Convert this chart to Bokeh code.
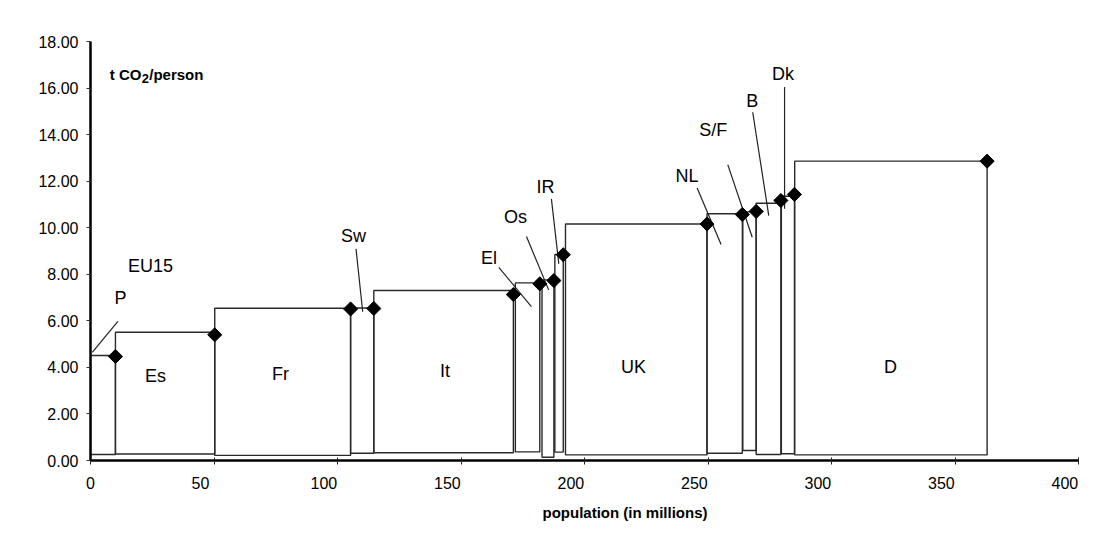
import numpy as np
from bokeh.plotting import figure
from bokeh.models import Range1d, FixedTicker, NumeralTickFormatter, Label, ColumnDataSource, Title
from bokeh.core.properties import value
from bokeh.embed import file_html
from bokeh.resources import INLINE

# ---- data ----
countries = ["P", "Es", "Fr", "Sw", "It", "El", "Os", "IR", "UK", "NL", "S/F", "B", "Dk", "D"]
pop_start = [0.0, 10.1, 50.3, 105.3, 114.7, 172.0, 182.8, 188.0, 192.3, 249.6, 264.1, 269.5, 279.7, 285.1]
pop_end = [10.1, 50.3, 105.3, 114.7, 171.2, 181.9, 187.6, 191.4, 249.6, 263.9, 269.5, 279.5, 285.0, 363.0]
co2_per_capita = [4.51, 5.51, 6.54, 6.55, 7.30, 7.63, 7.76, 8.85, 10.16, 10.60, 10.68, 11.05, 11.35, 12.86]
box_base = [0.26, 0.28, 0.22, 0.31, 0.33, 0.37, 0.14, 0.36, 0.24, 0.31, 0.43, 0.26, 0.29, 0.24]
marker_y = [4.47, 5.40, 6.51, 6.53, 7.13, 7.59, 7.73, 8.84, 10.16, 10.57, 10.70, 11.17, 11.43, 12.86]

# labels inside boxes
inner_labels = ["Es", "Fr", "It", "UK", "D"]
inner_x = [26.3, 76.9, 143.5, 219.8, 323.9]
inner_y = [3.65, 3.72, 3.84, 4.0, 4.0]

# labels with leader lines
outer_labels = ["EU15", "P", "Sw", "El", "Os", "IR", "NL", "S/F", "B", "Dk"]
outer_x = [24.3, 12.1, 106.5, 161.3, 172.1, 184.2, 241.5, 252.1, 267.9, 280.4]
outer_y = [8.35, 6.96, 9.66, 8.71, 10.45, 11.77, 12.24, 14.2, 15.46, 16.61]
lead_x0 = [0.7, 107.5, 165.3, 176.5, 186.6, 245.6, 258.0, 268.1, 281.0]
lead_y0 = [4.65, 9.09, 8.30, 9.62, 11.24, 11.71, 12.71, 14.96, 16.04]
lead_x1 = [11.1, 110.2, 178.5, 185.5, 189.6, 255.3, 267.9, 274.6, 281.0]
lead_y1 = [5.98, 6.39, 6.61, 7.33, 8.45, 9.28, 9.59, 10.52, 10.81]

x_ticks = [0, 50, 100, 150, 200, 250, 300, 350, 400]
x_tick_labels = ["0", "50", "100", "150", "200", "250", "300", "350", "400"]
y_ticks = [0, 2, 4, 6, 8, 10, 12, 14, 16, 18]

FONT = "Liberation Sans"

p = figure(width=1110, height=532, output_backend="svg", toolbar_location=None,
           x_range=Range1d(0, 400), y_range=Range1d(0, 18),
           min_border_left=90, min_border_right=32, min_border_top=41, min_border_bottom=72)
p.outline_line_color = None
p.xgrid.visible = False
p.ygrid.visible = False
p.background_fill_color = "white"
p.border_fill_color = "white"

# x axis: in the reference the printed labels sit ~13px left of their tick marks
label_shift = 5.5
label_pos = [t if t == 0 else t - label_shift for t in x_ticks]
p.xaxis.ticker = FixedTicker(ticks=label_pos, minor_ticks=x_ticks)
p.xaxis.major_label_overrides = {pos: lab for pos, lab in zip(label_pos, x_tick_labels)}
p.xaxis.major_tick_line_color = None
p.xaxis.minor_tick_line_color = "#222222"
p.xaxis.minor_tick_in = 3
p.xaxis.minor_tick_out = 4
p.xaxis.major_label_standoff = 10

p.yaxis.ticker = FixedTicker(ticks=y_ticks)
p.yaxis.formatter = NumeralTickFormatter(format="0.00")
p.yaxis.major_tick_line_color = "#333333"
p.yaxis.minor_tick_line_color = None
p.yaxis.major_tick_in = 0
p.yaxis.major_tick_out = 4
p.yaxis.major_label_standoff = 8

for ax in (p.xaxis[0], p.yaxis[0]):
    ax.axis_line_width = 2.5
    ax.axis_line_color = "black"
    ax.major_label_text_font = FONT
    ax.major_label_text_font_size = "16px"
    ax.major_label_text_color = "black"

# boxes
box_src = ColumnDataSource(dict(left=pop_start, right=pop_end, top=co2_per_capita, bottom=box_base))
p.quad(left="left", right="right", top="top", bottom="bottom", source=box_src,
       fill_alpha=0, line_color="#2a2a2a", line_width=1.4)

# leader lines
p.segment(x0=lead_x0, y0=lead_y0, x1=lead_x1, y1=lead_y1, line_color="#222222", line_width=1.2)

# diamonds
p.scatter(x=pop_end, y=marker_y, marker="square", angle=np.pi / 4, size=10,
          fill_color="black", line_color="black")

# text labels
p.text(x=inner_x, y=inner_y, text=inner_labels, text_font=value(FONT), text_font_size="18px",
       text_align="center", text_baseline="middle", text_color="black")
p.text(x=outer_x, y=outer_y, text=outer_labels, text_font=value(FONT), text_font_size="18px",
       text_align="center", text_baseline="middle", text_color="black")

# unit label "t CO2/person" with subscript 2
unit_kw = dict(text_font=FONT, text_font_style="bold", text_align="left", text_baseline="middle",
               text_color="black")
p.add_layout(Label(x=7.8, y=16.6, text="t CO", text_font_size="15px", **unit_kw))
p.add_layout(Label(x=7.8, y=16.6, x_offset=32, y_offset=-4, text="2", text_font_size="13px", **unit_kw))
p.add_layout(Label(x=7.8, y=16.6, x_offset=39.5, text="/person", text_font_size="15px", **unit_kw))

p.add_layout(Title(text="population (in millions)", align="left", offset=452,
                   text_font=FONT, text_font_size="15px", text_font_style="bold",
                   text_color="black", standoff=21), "below")

open("out.html", "w").write(file_html(p, INLINE))
